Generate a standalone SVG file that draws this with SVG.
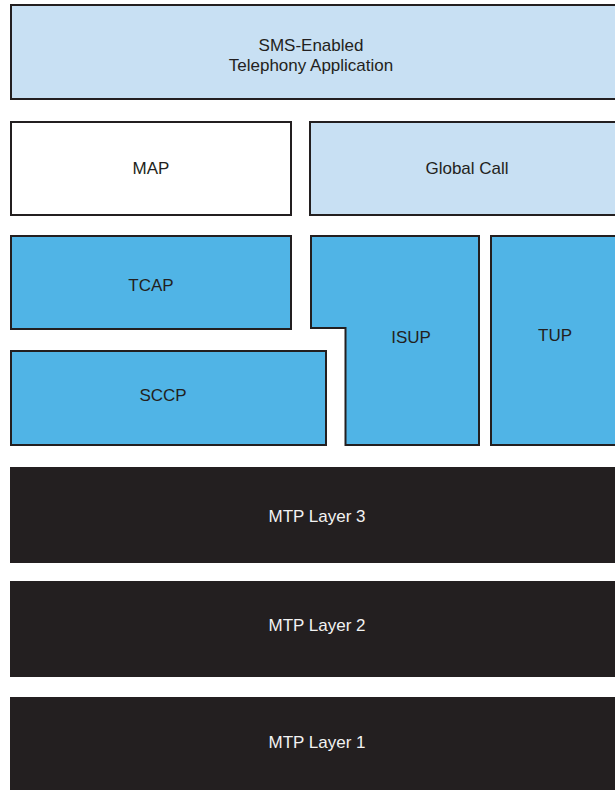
<svg xmlns="http://www.w3.org/2000/svg" width="615" height="790" viewBox="0 0 615 790">
<style>
.box{stroke:#231f20;stroke-width:2}
.light{fill:#c8e0f3}
.white{fill:#ffffff}
.blue{fill:#50b4e6}
.dark{fill:#231f20}
text{font-family:"Liberation Sans",Arial,sans-serif;font-size:17px;text-anchor:middle;dominant-baseline:central;fill:#231f20}
.wt{fill:#f2f2f2}
</style>
<rect width="615" height="790" fill="#ffffff"/>
<g id="app">
<rect class="box light" x="11" y="5" width="615" height="94"/>
<text x="311" y="45">SMS-Enabled</text>
<text x="311" y="65">Telephony Application</text>
</g>
<g id="map">
<rect class="box white" x="11" y="122" width="280" height="93"/>
<text x="151" y="168">MAP</text>
</g>
<g id="globalcall">
<rect class="box light" x="310" y="122" width="320" height="93"/>
<text x="467" y="168">Global Call</text>
</g>
<g id="tcap">
<rect class="box blue" x="11" y="236" width="280" height="93"/>
<text x="151" y="285">TCAP</text>
</g>
<g id="sccp">
<rect class="box blue" x="11" y="351" width="315" height="94"/>
<text x="163" y="395">SCCP</text>
</g>
<g id="isup">
<path class="box blue" d="M311,236 H479 V445 H345.5 V328 H311 Z"/>
<text x="411" y="337">ISUP</text>
</g>
<g id="tup">
<rect class="box blue" x="491" y="236" width="140" height="209"/>
<text x="555" y="335">TUP</text>
</g>
<g id="mtp3">
<rect class="dark" x="10" y="467" width="620" height="96"/>
<text class="wt" x="317" y="516">MTP Layer 3</text>
</g>
<g id="mtp2">
<rect class="dark" x="10" y="581" width="620" height="96"/>
<text class="wt" x="317" y="625">MTP Layer 2</text>
</g>
<g id="mtp1">
<rect class="dark" x="10" y="697" width="620" height="100"/>
<text class="wt" x="317" y="742">MTP Layer 1</text>
</g>
<g id="connectors"></g>
</svg>
